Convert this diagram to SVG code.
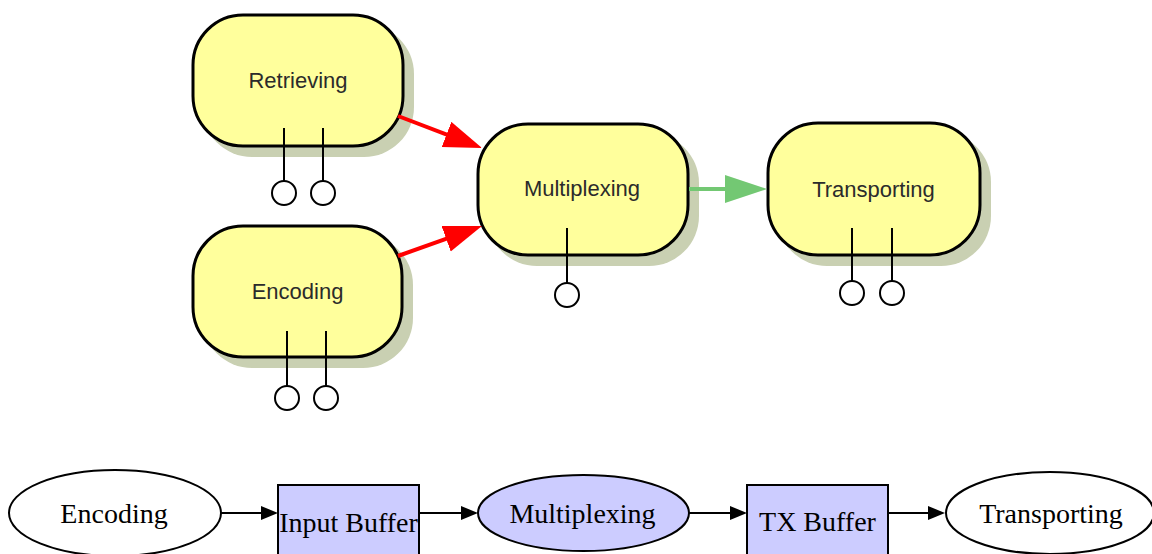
<svg xmlns="http://www.w3.org/2000/svg" width="1152" height="554" viewBox="0 0 1152 554">
  <style>
    .shadow { fill: #c9d0b2; }
    .proc { fill: #ffff9c; stroke: #000; stroke-width: 3; }
    .plabel { font-family: "Liberation Sans", Arial, sans-serif; font-size: 22px; fill: #2b2b2b; text-anchor: middle; }
    .stem { stroke: #000; stroke-width: 2; fill: none; }
    .port { fill: #fff; stroke: #000; stroke-width: 2; }
    .flow-red { stroke: #ff0000; stroke-width: 4; fill: none; }
    .flow-green { stroke: #73c873; stroke-width: 4; fill: none; }
    .gnode { stroke: #000; stroke-width: 2; }
    .glabel { font-family: "Liberation Serif", "Times New Roman", serif; font-size: 28px; fill: #000; text-anchor: middle; }
    .gedge { stroke: #000; stroke-width: 2; fill: none; }
  </style>
  <defs>
    <marker id="headRed" markerUnits="userSpaceOnUse" markerWidth="40" markerHeight="28" refX="8" refY="13.5" orient="auto">
      <path d="M0,0 L38,13.5 L0,27 Z" fill="#ff0000"/>
    </marker>
    <marker id="headGreen" markerUnits="userSpaceOnUse" markerWidth="44" markerHeight="30" refX="10" refY="14" orient="auto">
      <path d="M0,0 L42,14 L0,28 Z" fill="#73c873"/>
    </marker>
    <marker id="headBlack" markerUnits="userSpaceOnUse" markerWidth="18" markerHeight="16" refX="4" refY="7" orient="auto">
      <path d="M0,0 L17,7 L0,14 Z" fill="#000"/>
    </marker>
  </defs>

  <g id="retrieving">
    <rect class="shadow" x="202" y="24" width="212" height="133" rx="50" ry="50"/>
    <rect class="proc" x="193" y="15" width="210" height="131" rx="50" ry="50"/>
    <text class="plabel" x="298" y="88">Retrieving</text>
    <line class="stem" x1="284" y1="128" x2="284" y2="181"/>
    <line class="stem" x1="323" y1="128" x2="323" y2="181"/>
    <circle class="port" cx="284" cy="193" r="12"/>
    <circle class="port" cx="323" cy="193" r="12"/>
  </g>

  <g id="encoding">
    <rect class="shadow" x="202" y="235" width="211" height="133" rx="50" ry="50"/>
    <rect class="proc" x="193" y="226" width="209" height="131" rx="50" ry="50"/>
    <text class="plabel" x="297.5" y="299">Encoding</text>
    <line class="stem" x1="287" y1="331" x2="287" y2="386"/>
    <line class="stem" x1="326" y1="331" x2="326" y2="386"/>
    <circle class="port" cx="287" cy="398" r="12"/>
    <circle class="port" cx="326" cy="398" r="12"/>
  </g>

  <g id="multiplexing">
    <rect class="shadow" x="487" y="133" width="212" height="133" rx="50" ry="50"/>
    <rect class="proc" x="478" y="124" width="210" height="131" rx="50" ry="50"/>
    <text class="plabel" x="582" y="196">Multiplexing</text>
    <line class="stem" x1="567" y1="228" x2="567" y2="283"/>
    <circle class="port" cx="567" cy="295" r="12"/>
  </g>

  <g id="transporting">
    <rect class="shadow" x="777" y="132" width="214" height="134" rx="50" ry="50"/>
    <rect class="proc" x="768" y="123" width="212" height="132" rx="50" ry="50"/>
    <text class="plabel" x="873.5" y="197">Transporting</text>
    <line class="stem" x1="852" y1="228" x2="852" y2="281"/>
    <line class="stem" x1="892" y1="228" x2="892" y2="281"/>
    <circle class="port" cx="852" cy="293" r="12"/>
    <circle class="port" cx="892" cy="293" r="12"/>
  </g>

  <!-- upper process chart: connectors, drawn over the node shadows -->
  <g id="connectors-top">
    <line class="flow-red" x1="398" y1="116" x2="454" y2="137.3" marker-end="url(#headRed)"/>
    <line class="flow-red" x1="398" y1="256" x2="453.7" y2="236.1" marker-end="url(#headRed)"/>
    <line class="flow-green" x1="689" y1="189" x2="735" y2="189" marker-end="url(#headGreen)"/>
  </g>

  <g id="p-encoding">
    <ellipse class="gnode" cx="115" cy="513" rx="106" ry="43" fill="#fff"/>
    <text class="glabel" x="114" y="523">Encoding</text>
  </g>

  <g id="input-buffer">
    <rect class="gnode" x="278" y="485" width="141" height="100" fill="#ccccff"/>
    <text class="glabel" x="348.5" y="532">Input Buffer</text>
  </g>

  <g id="p-multiplexing">
    <ellipse class="gnode" cx="583.5" cy="513" rx="105.5" ry="38" fill="#ccccff"/>
    <text class="glabel" x="582.5" y="523">Multiplexing</text>
  </g>

  <g id="tx-buffer">
    <rect class="gnode" x="747" y="485" width="141" height="100" fill="#ccccff"/>
    <text class="glabel" x="817.5" y="531">TX Buffer</text>
  </g>

  <g id="p-transporting">
    <ellipse class="gnode" cx="1050" cy="513" rx="104" ry="41" fill="#fff"/>
    <text class="glabel" x="1051" y="523">Transporting</text>
  </g>

  <!-- lower buffer pipeline: connectors -->
  <g id="connectors-bottom">
    <line class="gedge" x1="221" y1="513" x2="265" y2="513" marker-end="url(#headBlack)"/>
    <line class="gedge" x1="419" y1="513" x2="465" y2="513" marker-end="url(#headBlack)"/>
    <line class="gedge" x1="689" y1="513" x2="734" y2="513" marker-end="url(#headBlack)"/>
    <line class="gedge" x1="888" y1="513" x2="932" y2="513" marker-end="url(#headBlack)"/>
  </g>
</svg>
